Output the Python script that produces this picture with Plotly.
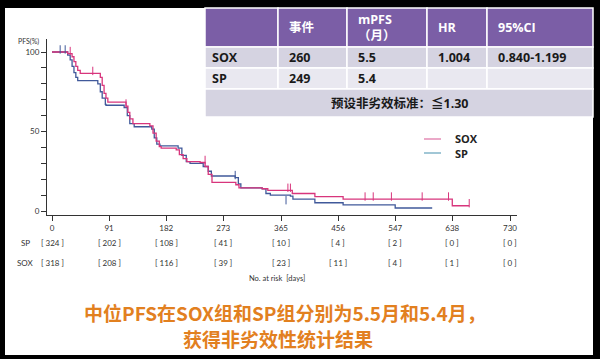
import plotly.graph_objects as go

W, H = 600, 359

# ---------------- data ----------------
sox_days = [0, 25, 32, 35, 38, 41, 45, 77, 80, 83, 86, 89, 118, 121, 124, 129, 156, 161, 166, 171, 174,
            198, 203, 209, 215, 236, 244, 249, 255, 293, 298, 335, 344, 383, 419, 464, 638, 665]
sox_pfs = [100, 99, 97, 94, 91, 88.5, 86.5, 84, 79, 74, 71, 68.5, 66, 62, 58, 55, 53.5, 49, 44, 40.5, 39.5,
           38.5, 35.5, 33, 31, 30.5, 28, 23, 18, 16.5, 14.5, 14, 13, 11, 9, 7.5, 3.3, 3.3]
sp_days = [0, 25, 29, 32, 35, 38, 41, 73, 77, 80, 85, 86, 115, 120, 124, 131, 159, 163, 167, 172,
           201, 207, 214, 220, 241, 249, 254, 292, 297, 301, 335, 341, 348, 380, 384, 419, 464, 547, 606]
sp_pfs = [100, 98, 95, 91, 87, 84, 82, 80, 75, 71, 67, 66.5, 65, 60, 55, 53, 51.5, 46, 42, 41,
          39.5, 35, 31, 30, 28, 25, 22, 21, 17, 14.5, 14, 11, 10, 9.4, 7.5, 5.2, 3.8, 1.9, 1.9]

sox_cens_days = [29, 65, 118, 244, 376, 380, 499, 512, 541, 590, 632, 665]
sox_cens_pfs = [99, 86.5, 66, 30.5, 13, 13, 7.5, 7.5, 7.5, 7.5, 7.5, 3.3]
sp_cens_days = [13, 21, 292, 373]
sp_cens_pfs = [100, 100, 21, 5.2]

tick_days = [0, 91, 182, 273, 365, 456, 547, 638, 730]
risk_sp = [324, 202, 108, 41, 10, 4, 2, 0, 0]
risk_sox = [318, 208, 116, 39, 23, 11, 4, 1, 0]

table_header = ["", "事件", "mPFS<br>（月）", "HR", "95%CI"]
table_sox = ["SOX", "260", "5.5", "1.004", "0.840-1.199"]
table_sp = ["SP", "249", "5.4", "", ""]
table_note = "预设非劣效标准：≦1.30"

summary_lines = ["中位PFS在SOX组和SP组分别为5.5月和5.4月，", "获得非劣效性统计结果"]

SOX_COLOR = "#D8357C"
SP_COLOR = "#40599A"


def px(x):
    return x / W


def py(y):
    return 1 - y / H


fig = go.Figure()

fig.add_trace(go.Scatter(x=sp_days, y=sp_pfs, mode="lines", line=dict(color=SP_COLOR, width=1.3, shape="hv"),
                         showlegend=False, hoverinfo="skip"))
fig.add_trace(go.Scatter(x=sox_days, y=sox_pfs, mode="lines", line=dict(color=SOX_COLOR, width=1.3, shape="hv"),
                         showlegend=False, hoverinfo="skip"))
fig.add_trace(go.Scatter(x=sp_cens_days, y=[v + 1.6 for v in sp_cens_pfs], mode="markers",
                         marker=dict(symbol="line-ns", size=6, line=dict(color=SP_COLOR, width=1)),
                         showlegend=False, hoverinfo="skip"))
fig.add_trace(go.Scatter(x=sox_cens_days, y=[v + 1.6 for v in sox_cens_pfs], mode="markers",
                         marker=dict(symbol="line-ns", size=6, line=dict(color=SOX_COLOR, width=1)),
                         showlegend=False, hoverinfo="skip"))

x0_px, x1_px = 47, 517
y_top_px, y_bot_px = 39, 215
day_per_px = 730 / 458.0
xr = [(x0_px - 52) * day_per_px, (x1_px - 52) * day_per_px]
pct_per_px = 100 / 159.0
yr = [(211 - y_bot_px) * pct_per_px, (211 - y_top_px) * pct_per_px]

axis_font = dict(family="Lato, DejaVu Sans", size=8, color="#333333")
fig.update_xaxes(domain=[px(x0_px), px(x1_px)], range=xr, showgrid=False, zeroline=False,
                 showline=True, linecolor="#333333", linewidth=1.2,
                 tickmode="array", tickvals=tick_days, ticktext=[str(t) for t in tick_days],
                 ticks="outside", ticklen=5, tickwidth=1.2, tickcolor="#333333", tickfont=axis_font)
fig.update_yaxes(domain=[py(y_bot_px), py(y_top_px)], range=yr, showgrid=False, zeroline=False,
                 showline=True, linecolor="#333333", linewidth=1.2,
                 tickmode="array", tickvals=list(range(0, 101, 10)),
                 ticktext=["0", "", "", "", "", "50", "", "", "", "", "100"],
                 ticks="outside", ticklen=5, tickwidth=1, tickcolor="#333333", tickfont=axis_font)

shapes = []
ann = []

# black frame
shapes.append(dict(type="rect", xref="paper", yref="paper", x0=px(5), x1=px(593), y0=py(355), y1=py(8),
                   fillcolor="white", line=dict(width=0), layer="below"))

ann.append(dict(text="PFS(%)", xref="paper", yref="paper", x=px(16), y=py(41), xanchor="left", yanchor="middle",
                showarrow=False, font=dict(family="Lato, DejaVu Sans", size=7, color="#333333")))

# at-risk table
for lbl, row, yy in [("SP", risk_sp, 243), ("SOX", risk_sox, 263)]:
    ann.append(dict(text=lbl, xref="paper", yref="paper", x=px(25), y=py(yy), xanchor="center", yanchor="middle",
                    showarrow=False, font=axis_font))
    for d, v in zip(tick_days, row):
        ann.append(dict(text=f"[ {v} ]", xref="x", yref="paper", x=d, y=py(yy), xanchor="center",
                        yanchor="middle", showarrow=False, font=axis_font))
ann.append(dict(text="No. at risk  [days]", xref="paper", yref="paper", x=px(277), y=py(278), xanchor="center",
                yanchor="middle", showarrow=False, font=dict(family="Lato, DejaVu Sans", size=7.5, color="#333333")))

# legend
for lbl, col, yy in [("SOX", "#E07AAA", 139), ("SP", "#6FA9C0", 153)]:
    shapes.append(dict(type="line", xref="paper", yref="paper", x0=px(424), x1=px(441), y0=py(yy), y1=py(yy),
                       line=dict(color=col, width=1.3)))
    ann.append(dict(text=f"<b>{lbl}</b>", xref="paper", yref="paper", x=px(453), y=py(yy), xanchor="left",
                    yanchor="middle", showarrow=False,
                    font=dict(family="Open Sans, Noto Sans CJK SC", size=11, color="#222222")))

# summary table
col_edges = [205, 278, 347, 427, 487, 593]
row_edges = [8, 47, 68, 89, 117]
row_colors = ["#7B5EA6", "#D5D3E1", "#E9E8F0", "#D5D3E1"]
tfont = "Open Sans, Noto Sans CJK SC"
for r in range(3):
    for c in range(5):
        shapes.append(dict(type="rect", xref="paper", yref="paper",
                           x0=px(col_edges[c]), x1=px(col_edges[c + 1]),
                           y0=py(row_edges[r + 1]), y1=py(row_edges[r]),
                           fillcolor=row_colors[r], line=dict(color="white", width=1.5)))
shapes.append(dict(type="rect", xref="paper", yref="paper", x0=px(col_edges[0]), x1=px(col_edges[-1]),
                   y0=py(row_edges[4]), y1=py(row_edges[3]), fillcolor=row_colors[3],
                   line=dict(color="white", width=1.5)))

for r, (cells, colr) in enumerate([(table_header, "white"), (table_sox, "#1a1a1a"), (table_sp, "#1a1a1a")]):
    yc = (row_edges[r] + row_edges[r + 1]) / 2
    for c, txt in enumerate(cells):
        if not txt:
            continue
        ann.append(dict(text=f"<b>{txt}</b>", xref="paper", yref="paper", x=px(col_edges[c] + 5 if c == 0 else col_edges[c] + 9),
                        y=py(yc), xanchor="left", yanchor="middle", align="left", showarrow=False,
                        font=dict(family=tfont, size=12.5, color=colr)))
ann.append(dict(text=f"<b>{table_note}</b>", xref="paper", yref="paper", x=px(400),
                y=py((row_edges[3] + row_edges[4]) / 2), xanchor="center", yanchor="middle", showarrow=False,
                font=dict(family=tfont, size=12.5, color="#1a1a1a")))

# bottom summary text
for txt, yy, xx in [(summary_lines[0], 312, 285), (summary_lines[1], 338, 278)]:
    ann.append(dict(text=f"<b>{txt}</b>", xref="paper", yref="paper", x=px(xx), y=py(yy), xanchor="center",
                    yanchor="middle", showarrow=False,
                    font=dict(family="Noto Sans CJK SC, Open Sans", size=19, color="#E2801F")))

fig.update_layout(width=W, height=H, margin=dict(l=0, r=0, t=0, b=0), paper_bgcolor="black",
                  plot_bgcolor="rgba(0,0,0,0)", shapes=shapes, annotations=ann, showlegend=False)

fig.write_html("out.html", config={"displayModeBar": False},
               post_script="document.body.style.margin='0';document.body.style.overflow='hidden';")
